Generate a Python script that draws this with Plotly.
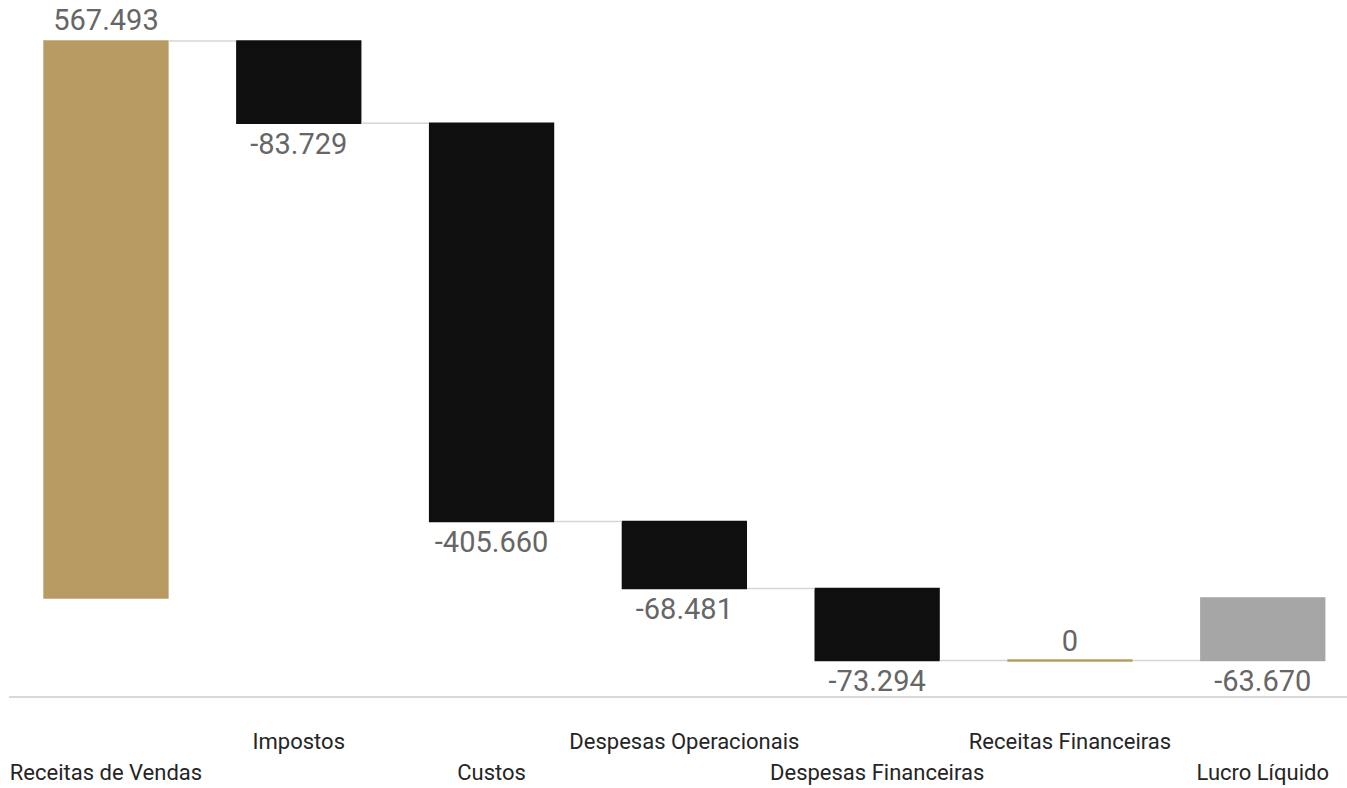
import plotly.graph_objects as go

# ---- data ----
categories = [
    "Receitas de Vendas",
    "Impostos",
    "Custos",
    "Despesas Operacionais",
    "Despesas Financeiras",
    "Receitas Financeiras",
    "Lucro Líquido",
]
values = [567493, -83729, -405660, -68481, -73294, 0, -63670]
measures = ["relative", "relative", "relative", "relative", "relative", "relative", "total"]


def fmt(v):
    s = f"{abs(v):,.0f}".replace(",", ".")
    return ("-" if v < 0 else "") + s


labels = [fmt(v) for v in values]

GOLD = "#B89B63"
BLACK = "#0F0F0F"
GRAY = "#A6A6A6"
FONT = "Roboto, sans-serif"
BAR_GAP = 0.35
half_w = (1 - BAR_GAP) / 2

# running totals (for the zero-height step, drawn as a thin gold line)
running = []
acc = 0
for v, m in zip(values, measures):
    if m == "relative":
        acc += v
    running.append(acc)
zero_idx = [i for i, (v, m) in enumerate(zip(values, measures)) if m == "relative" and v == 0]

xs = list(range(len(categories)))
even_idx = [i for i in xs if i % 2 == 0]
odd_idx = [i for i in xs if i % 2 == 1]

fig = go.Figure()
fig.add_trace(
    go.Waterfall(
        x=xs,
        y=values,
        measure=measures,
        text=labels,
        textposition="outside",
        textfont=dict(family=FONT, size=29, color="#666666"),
        cliponaxis=False,
        increasing=dict(marker=dict(color=GOLD)),
        decreasing=dict(marker=dict(color=BLACK)),
        totals=dict(marker=dict(color=GRAY)),
        connector=dict(mode="between", line=dict(color="#D6D6D6", width=1.5)),
        hoverinfo="skip",
    )
)
for i in zero_idx:
    fig.add_trace(
        go.Scatter(
            x=[i - half_w, i + half_w],
            y=[running[i], running[i]],
            mode="lines",
            line=dict(color=GOLD, width=2.5),
            hoverinfo="skip",
            xaxis="x2",
        )
    )

fig.update_layout(
    width=1347,
    height=788,
    margin=dict(l=9, r=0, t=0, b=92),
    paper_bgcolor="white",
    plot_bgcolor="white",
    showlegend=False,
    waterfallgap=BAR_GAP,
    font=dict(family=FONT),
    xaxis=dict(
        range=[-0.503, 6.437],
        tickmode="array",
        tickvals=even_idx,
        ticktext=[categories[i] for i in even_idx],
        tickfont=dict(family=FONT, size=22, color="#252525"),
        tickangle=0,
        ticks="",
        ticklabelstandoff=56,
        automargin=False,
        showline=True,
        linecolor="#D9D9D9",
        linewidth=1.5,
        showgrid=False,
        zeroline=False,
    ),
    xaxis2=dict(
        overlaying="x",
        matches="x",
        anchor="y",
        side="bottom",
        tickmode="array",
        tickvals=odd_idx,
        ticktext=[categories[i] for i in odd_idx],
        tickfont=dict(family=FONT, size=22, color="#252525"),
        tickangle=0,
        ticks="",
        ticklabelstandoff=30,
        automargin=False,
        showline=False,
        showgrid=False,
        zeroline=False,
    ),
    yaxis=dict(
        range=[-99800, 609300],
        visible=False,
        showgrid=False,
        zeroline=False,
    ),
)

fig.write_html(
    "out.html",
    config={"displayModeBar": False},
    post_script="document.body.style.margin='0';document.body.style.overflow='hidden';",
)
